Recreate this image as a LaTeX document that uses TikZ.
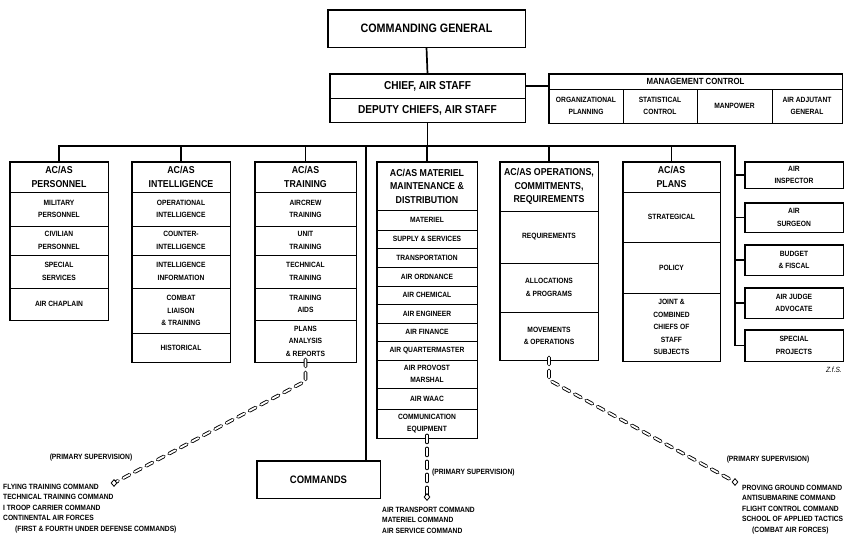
\documentclass[tikz,border=0pt]{standalone}
\usepackage{fontspec}
\setmainfont{Liberation Sans}[FakeStretch=0.88]
\usetikzlibrary{shapes.geometric}
\newcommand{\cellfont}{\fontsize{7.6}{12.5}\selectfont\bfseries}
\newcommand{\headfont}{\fontsize{10}{13.5}\selectfont\bfseries}
\newcommand{\notefont}{\fontsize{7.6}{10.4}\selectfont\bfseries}
\newcommand{\cellbox}[7][cell]{%
  \pgfmathsetmacro{\cellw}{#5-#3}\pgfmathsetmacro{\cellh}{#6-#4}%
  \node[#1, minimum width=\cellw pt, minimum height=\cellh pt] (#2) at ({(#3+#5)/2},{(#4+#6)/2}) {#7};}

\begin{document}
\begin{tikzpicture}[x=1pt,y=-1pt,
    cell/.style={draw, line width=0.9pt, inner sep=1pt, align=center, font=\cellfont},
    head/.style={cell, font=\headfont},
    bar/.style={line width=1.7pt},
    frame/.style={line width=1.4pt},
    supline/.style={line width=3.6pt, dash pattern=on 7pt off 6pt, line cap=round,
      postaction={draw=white, line width=1.8pt, dash pattern=on 7pt off 6pt, line cap=round}},
    tipmark/.style={diamond, draw, fill=white, line width=0.8pt, inner sep=0pt, minimum width=6pt, minimum height=7pt},
    note/.style={font=\notefont, align=left, inner sep=0pt}]
\useasboundingbox (0,0) rectangle (847,537);

\cellbox[head]{cg}{328}{10}{525}{47}{\fontsize{12.2}{14}\selectfont COMMANDING GENERAL}
\cellbox[head]{chief}{330}{74}{525}{98}{\fontsize{11.5}{13}\selectfont CHIEF, AIR STAFF}
\cellbox[head]{deputy}{330}{98}{525}{122}{\fontsize{11.5}{13}\selectfont DEPUTY CHIEFS, AIR STAFF}
\draw[frame] (cg.north west) rectangle (cg.south east);
\draw[frame] (chief.north west) rectangle (deputy.south east);

\cellbox[cell]{mgmt}{549}{74}{842}{89}{\fontsize{8.9}{10}\selectfont MANAGEMENT CONTROL}
\cellbox{org}{549}{89}{623}{123}{ORGANIZATIONAL\\PLANNING}
\cellbox{stat}{623}{89}{697}{123}{STATISTICAL\\CONTROL}
\cellbox{manp}{697}{89}{772}{123}{MANPOWER}
\cellbox{adj}{772}{89}{842}{123}{AIR ADJUTANT\\GENERAL}
\draw[frame] (mgmt.north west) rectangle (adj.south east);

\cellbox[head]{perh}{10}{162}{108}{192}{AC/AS\\PERSONNEL}
\cellbox{per1}{10}{192}{108}{226}{MILITARY\\PERSONNEL}
\cellbox{per2}{10}{226}{108}{255}{CIVILIAN\\PERSONNEL}
\cellbox{per3}{10}{255}{108}{288}{SPECIAL\\SERVICES}
\cellbox{per4}{10}{288}{108}{320}{AIR CHAPLAIN}
\draw[frame] (perh.north west) rectangle (per4.south east);
\draw[frame] (perh.south west) -- (perh.south east);

\cellbox[head]{inth}{132}{162}{230}{192}{AC/AS\\INTELLIGENCE}
\cellbox{int1}{132}{192}{230}{226}{OPERATIONAL\\INTELLIGENCE}
\cellbox{int2}{132}{226}{230}{255}{COUNTER-\\INTELLIGENCE}
\cellbox{int3}{132}{255}{230}{288}{INTELLIGENCE\\INFORMATION}
\cellbox{int4}{132}{288}{230}{333}{COMBAT\\LIAISON\\\& TRAINING}
\cellbox{int5}{132}{333}{230}{362}{HISTORICAL}
\draw[frame] (inth.north west) rectangle (int5.south east);
\draw[frame] (inth.south west) -- (inth.south east);

\cellbox[head]{trah}{255}{162}{356}{192}{AC/AS\\TRAINING}
\cellbox{tra1}{255}{192}{356}{226}{AIRCREW\\TRAINING}
\cellbox{tra2}{255}{226}{356}{255}{UNIT\\TRAINING}
\cellbox{tra3}{255}{255}{356}{288}{TECHNICAL\\TRAINING}
\cellbox{tra4}{255}{288}{356}{320}{TRAINING\\AIDS}
\cellbox{tra5}{255}{320}{356}{362}{PLANS\\ANALYSIS\\\& REPORTS}
\draw[frame] (trah.north west) rectangle (tra5.south east);
\draw[frame] (trah.south west) -- (trah.south east);

\cellbox[head]{math}{377}{162}{477}{210}{AC/AS MATERIEL\\MAINTENANCE \&\\DISTRIBUTION}
\cellbox{mat1}{377}{210}{477}{230}{MATERIEL}
\cellbox{mat2}{377}{230}{477}{248}{SUPPLY \& SERVICES}
\cellbox{mat3}{377}{248}{477}{267}{TRANSPORTATION}
\cellbox{mat4}{377}{267}{477}{286}{AIR ORDNANCE}
\cellbox{mat5}{377}{286}{477}{304}{AIR CHEMICAL}
\cellbox{mat6}{377}{304}{477}{323}{AIR ENGINEER}
\cellbox{mat7}{377}{323}{477}{341}{AIR FINANCE}
\cellbox{mat8}{377}{341}{477}{360}{AIR QUARTERMASTER}
\cellbox{mat9}{377}{360}{477}{388}{AIR PROVOST\\MARSHAL}
\cellbox{mat10}{377}{388}{477}{409}{AIR WAAC}
\cellbox{mat11}{377}{409}{477}{438}{COMMUNICATION\\EQUIPMENT}
\draw[frame] (math.north west) rectangle (mat11.south east);
\draw[frame] (math.south west) -- (math.south east);

\cellbox[head]{opsh}{500}{162}{598}{211}{AC/AS OPERATIONS,\\COMMITMENTS,\\REQUIREMENTS}
\cellbox{ops1}{500}{211}{598}{263}{REQUIREMENTS}
\cellbox{ops2}{500}{263}{598}{312}{ALLOCATIONS\\\& PROGRAMS}
\cellbox{ops3}{500}{312}{598}{360}{MOVEMENTS\\\& OPERATIONS}
\draw[frame] (opsh.north west) rectangle (ops3.south east);
\draw[frame] (opsh.south west) -- (opsh.south east);

\cellbox[head]{plah}{623}{162}{720}{192}{AC/AS\\PLANS}
\cellbox{pla1}{623}{192}{720}{242}{STRATEGICAL}
\cellbox{pla2}{623}{242}{720}{293}{POLICY}
\cellbox{pla3}{623}{293}{720}{361}{\fontsize{7.6}{10}\selectfont JOINT \&\\COMBINED\\CHIEFS OF\\STAFF\\SUBJECTS}
\draw[frame] (plah.north west) rectangle (pla3.south east);
\draw[frame] (plah.south west) -- (plah.south east);

\cellbox{insp}{745}{162}{843}{188}{AIR\\INSPECTOR}
\cellbox{surg}{745}{203}{843}{232}{AIR\\SURGEON}
\cellbox{budg}{745}{245}{843}{275}{BUDGET\\\& FISCAL}
\cellbox{judg}{745}{288}{843}{318}{AIR JUDGE\\ADVOCATE}
\cellbox{spec}{745}{330}{843}{361}{SPECIAL\\PROJECTS}
\foreach \n in {insp,surg,budg,judg,spec}
  \draw[frame] (\n.north west) rectangle (\n.south east);

\cellbox[head]{cmd}{257}{461}{380}{498}{\fontsize{10.8}{12}\selectfont COMMANDS}
\draw[frame] (cmd.north west) rectangle (cmd.south east);

\coordinate (rcol) at (735,146);
\coordinate (cmdtop) at (366,146);
\draw[bar] (cg.south) -- (chief.north);
\draw[bar] (chief.east) -- (chief.east -| org.west);
\draw[bar] (deputy.south) -- (deputy.south |- rcol);
\draw[bar] (perh.north) |- (rcol) -- (rcol |- spec.west) -- (spec.west);
\foreach \n in {inth,trah,math,opsh,plah}
  \draw[bar] (\n.north) -- (\n.north |- rcol);
\foreach \n in {insp,surg,budg,judg}
  \draw[bar] (rcol |- \n.west) -- (\n.west);
\draw[bar] (cmdtop) -- (cmdtop |- cmd.north);

\coordinate (tbend) at (305.5,381);
\coordinate (ttip) at (114,483);
\coordinate (mtip) at (427,497);
\coordinate (obend) at (549,380);
\coordinate (otip) at (735,482);
\draw[supline] ([yshift=3pt]tra5.south) -- (tbend) -- (ttip);
\draw[supline] ([yshift=3pt]mat11.south) -- (mtip);
\draw[supline] ([yshift=3pt]ops3.south) -- (obend) -- (otip);
\node[tipmark] (ttipm) at (ttip) {};
\node[tipmark] (mtipm) at (mtip) {};
\node[tipmark] (otipm) at (otip) {};

\node[note, anchor=base] (psl) at (91,460) {(PRIMARY SUPERVISION)};
\node[note, anchor=base west] (psm) at (432,475) {(PRIMARY SUPERVISION)};
\node[note, anchor=base] (psr) at (768,462) {(PRIMARY SUPERVISION)};
\node[note, anchor=north west] (lcmd) at (3,484) {FLYING TRAINING COMMAND\\TECHNICAL TRAINING COMMAND\\I TROOP CARRIER COMMAND\\CONTINENTAL AIR FORCES\\\hspace*{12pt}(FIRST \& FOURTH UNDER DEFENSE COMMANDS)};
\node[note, anchor=north west] (mcmd) at (382,507) {AIR TRANSPORT COMMAND\\MATERIEL COMMAND\\AIR SERVICE COMMAND};
\node[note, anchor=north west] (rcmd) at (742,485) {PROVING GROUND COMMAND\\ANTISUBMARINE COMMAND\\FLIGHT CONTROL COMMAND\\SCHOOL OF APPLIED TACTICS\\\hspace*{10pt}(COMBAT AIR FORCES)};
\node[font=\itshape\fontsize{7.5}{8}\selectfont] (sig) at (834,370) {Z.f.S.};
\end{tikzpicture}
\end{document}
